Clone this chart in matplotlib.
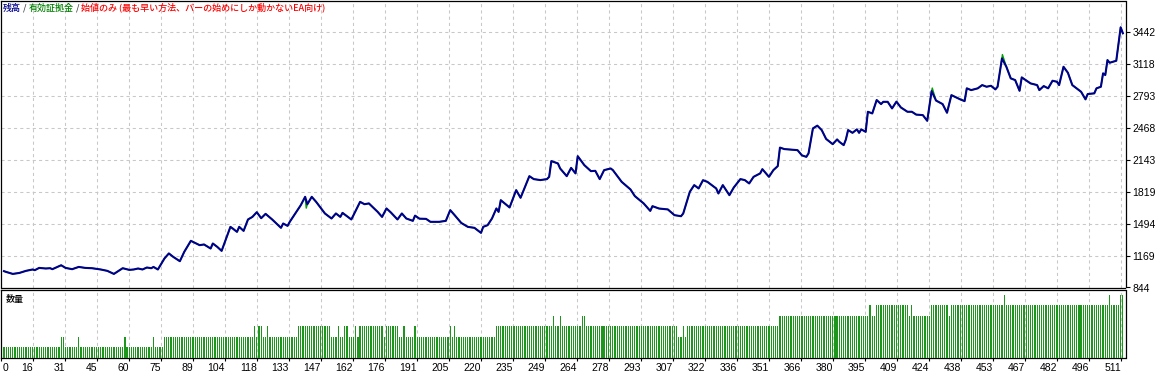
import numpy as np
import matplotlib
matplotlib.use("Agg")
import matplotlib.pyplot as plt

# ---------------- data ----------------
balance_trades = [0, 1, 4, 7, 10, 13, 14, 16, 19, 21,
                  22, 26, 28, 31, 34, 37, 40, 44, 47, 50,
                  54, 57, 59, 61, 63, 65, 67, 68, 70, 73,
                  75, 77, 80, 82, 85, 89, 91, 94, 95, 97,
                  99, 103, 104, 106, 107, 109, 111, 113, 115, 117,
                  119, 122, 126, 127, 129, 130, 132, 135, 137, 138,
                  140, 142, 146, 149, 151, 153, 154, 158, 159, 162,
                  164, 166, 170, 172, 174, 176, 179, 181, 183, 186,
                  187, 189, 192, 194, 198, 201, 203, 205, 208, 211,
                  214, 217, 218, 220, 222, 224, 225, 226, 230, 233,
                  235, 239, 241, 244, 247, 248, 249, 252, 253, 256,
                  258, 260, 261, 264, 267, 269, 271, 273, 276, 277,
                  281, 285, 287, 291, 294, 295, 298, 302, 305, 308,
                  309, 312, 314, 316, 318, 320, 324, 325, 327, 330,
                  332, 335, 337, 339, 341, 344, 345, 348, 350, 352,
                  353, 355, 361, 363, 365, 366, 368, 370, 372, 374,
                  377, 379, 380, 382, 383, 384, 386, 388, 389, 390,
                  392, 393, 395, 397, 399, 400, 402, 404, 406, 408,
                  411, 413, 415, 418, 420, 422, 424, 427, 429, 431,
                  435, 437, 438, 440, 443, 445, 447, 449, 451, 452,
                  454, 456, 458, 460, 462, 463, 467, 470, 471, 473,
                  475, 477, 479, 480, 482, 484, 486, 489, 490, 492,
                  493, 496, 497, 499, 500, 501, 502, 503, 506, 508,
                  509]
balance_values = [1010, 1002, 982, 992, 1013, 1027, 1020, 1043, 1037, 1040,
                  1030, 1070, 1043, 1030, 1053, 1043, 1040, 1027, 1013, 982,
                  1040, 1023, 1027, 1037, 1027, 1047, 1040, 1053, 1027, 1139,
                  1190, 1155, 1111, 1206, 1318, 1274, 1281, 1240, 1291, 1257,
                  1216, 1460, 1444, 1409, 1460, 1419, 1535, 1561, 1609, 1548,
                  1592, 1535, 1450, 1494, 1470, 1511, 1579, 1680, 1765, 1690,
                  1765, 1714, 1596, 1545, 1596, 1561, 1602, 1535, 1579, 1714,
                  1690, 1698, 1612, 1561, 1647, 1606, 1535, 1596, 1545, 1521,
                  1574, 1543, 1541, 1511, 1511, 1521, 1630, 1579, 1500, 1460,
                  1450, 1399, 1460, 1477, 1545, 1647, 1612, 1731, 1657, 1833,
                  1755, 1975, 1945, 1935, 1945, 1968, 2128, 2104, 2053, 1975,
                  2059, 2003, 2178, 2087, 2026, 2029, 1945, 2036, 2053, 2036,
                  1917, 1840, 1772, 1698, 1622, 1670, 1646, 1637, 1579, 1568,
                  1596, 1816, 1884, 1850, 1934, 1917, 1850, 1799, 1884, 1782,
                  1860, 1945, 1935, 1901, 1968, 2003, 2046, 1968, 2036, 2077,
                  2265, 2250, 2239, 2186, 2171, 2206, 2460, 2488, 2443, 2353,
                  2300, 2348, 2324, 2290, 2348, 2443, 2415, 2450, 2415, 2450,
                  2425, 2629, 2612, 2748, 2707, 2730, 2730, 2663, 2732, 2673,
                  2629, 2629, 2600, 2595, 2537, 2839, 2743, 2707, 2619, 2798,
                  2755, 2737, 2867, 2849, 2867, 2900, 2883, 2893, 2856, 2883,
                  3171, 3086, 2968, 2951, 2842, 2978, 2917, 2900, 2849, 2890,
                  2867, 2944, 2934, 2900, 3086, 3025, 2900, 2849, 2832, 2755,
                  2809, 2816, 2867, 2883, 3019, 3002, 3154, 3127, 3147, 3487,
                  3426]

# equity deviates from balance only at a few trades
equity_spike_trades = [137.5, 422.3, 454.2]
equity_spike_values = [1650, 2870, 3210]

# lot size per trade, given as change points (trade number, lots)
n_trades = 510
lot_change_trades = [0, 26, 28, 34, 35, 55, 56, 68, 69, 73,
                     114, 115, 116, 118, 120, 121, 134, 149, 152, 153,
                     155, 157, 160, 161, 162, 173, 174, 180, 182, 183,
                     187, 188, 203, 204, 205, 206, 224, 250, 251, 253,
                     254, 263, 265, 307, 309, 310, 311, 353, 394, 395,
                     397, 412, 413, 414, 422, 430, 431, 455, 456, 503,
                     504, 508]
lot_change_values = [0.01, 0.02, 0.01, 0.02, 0.01, 0.02, 0.01, 0.02, 0.01, 0.02,
                     0.03, 0.02, 0.03, 0.02, 0.03, 0.02, 0.03, 0.02, 0.03, 0.02,
                     0.03, 0.02, 0.03, 0.02, 0.03, 0.02, 0.03, 0.02, 0.03, 0.02,
                     0.03, 0.02, 0.03, 0.02, 0.03, 0.02, 0.03, 0.04, 0.03, 0.04,
                     0.03, 0.04, 0.03, 0.02, 0.03, 0.02, 0.03, 0.04, 0.05, 0.04,
                     0.05, 0.04, 0.05, 0.04, 0.05, 0.04, 0.05, 0.06, 0.05, 0.06,
                     0.05, 0.06]

y_tick_values = [844, 1169, 1494, 1819, 2143, 2468, 2793, 3118, 3442]
x_tick_labels = ['0', '16', '31', '45', '60', '75', '89', '104', '118', '133',
                 '147', '162', '176', '191', '205', '220', '235', '249', '264',
                 '278', '293', '307', '322', '336', '351', '366', '380', '395',
                 '409', '424', '438', '453', '467', '482', '496', '511']

title_parts = ["残高", " / ", "有効証拠金", " / ",
               "始値のみ (最も早い方法、バーの始めにしか動かないEA向け)"]
title_colors = ["#00008B", "#404040", "#008000", "#404040", "#FF0000"]
volume_label = "数量"

# ---------------- derived series ----------------
lots = np.zeros(n_trades)
bounds = list(lot_change_trades) + [n_trades]
for k, v in enumerate(lot_change_values):
    lots[bounds[k]:bounds[k + 1]] = v

eq_x = np.array(list(balance_trades) + equity_spike_trades, dtype=float)
eq_y = np.array(list(balance_values) + equity_spike_values, dtype=float)
order = np.argsort(eq_x, kind="stable")
eq_x, eq_y = eq_x[order], eq_y[order]

# ---------------- figure ----------------
W, H = 1164, 374
fig = plt.figure(figsize=(W / 100, H / 100), dpi=100)
plt.rcParams['font.family'] = ['Liberation Sans', 'DejaVu Sans']
cjk = ['Noto Sans CJK JP', 'DejaVu Sans']

def box(x0, y0, x1, y1):
    return [x0 / W, 1 - y1 / H, (x1 - x0) / W, (y1 - y0) / H]

ax = fig.add_axes(box(1, 1, 1125.5, 287.5))
ax2 = fig.add_axes(box(1, 289.5, 1125.5, 357.7), sharex=ax)

x_left, x_right = -1.365, 510.2
grid_step = 14.559
grid_x = [x_left + k * grid_step for k in range(len(x_tick_labels))]

grid_kw = dict(color="#C8C8C8", linestyle=(0, (3, 3)), linewidth=0.75)

# main panel
ax.plot(eq_x, eq_y, color="#00A000", lw=1.0, zorder=3)
ax.plot(balance_trades, balance_values, color="#00008B", lw=1.5, zorder=4,
        solid_joinstyle="round")
ax.set_xlim(x_left, x_right)
ax.set_ylim(844, 3754)
ax.set_yticks(y_tick_values)
ax.set_yticklabels([str(v) for v in y_tick_values])
ax.yaxis.tick_right()
ax.tick_params(axis="y", direction="out", length=3, width=0.8, pad=2,
               labelsize=7.5, colors="black")
ax.tick_params(axis="x", bottom=False, labelbottom=False)
for gx in grid_x[1:]:
    ax.axvline(gx, zorder=1, **grid_kw)
for gy in y_tick_values[1:]:
    ax.axhline(gy, zorder=1, **grid_kw)
for s in ax.spines.values():
    s.set_linewidth(0.9)

# title (multi-coloured)
t = ax.text(0.002, 0.975, title_parts[0], transform=ax.transAxes,
            color=title_colors[0], fontsize=6.5, family=cjk, va="center",
            ha="left", zorder=6, fontweight="medium")
for part, col in zip(title_parts[1:], title_colors[1:]):
    t = ax.annotate(part, xy=(1, 0), xycoords=t, va="bottom", ha="left",
                    color=col, fontsize=6.5, family=cjk, zorder=6,
                    fontweight="medium")

# volume panel
ax2.bar(np.arange(n_trades), lots, width=0.55, color="#1E961E",
        linewidth=0, zorder=3)
ax2.set_ylim(0, 0.0653)
ax2.set_yticks([])
for gx in grid_x[1:]:
    ax2.axvline(gx, zorder=1, **grid_kw)
ax2.set_xticks(grid_x)
ax2.set_xticklabels(x_tick_labels)
ax2.tick_params(axis="x", direction="out", length=2, width=0.8, pad=1.5,
                labelsize=7.5)
for i, lab in enumerate(ax2.get_xticklabels()):
    if i == 0:
        lab.set_horizontalalignment("left")
        lab.set_transform(lab.get_transform() + matplotlib.transforms.ScaledTranslation(2 / 100, 0, fig.dpi_scale_trans))
    else:
        lab.set_horizontalalignment("right")
for s in ax2.spines.values():
    s.set_linewidth(0.9)
ax2.text(0.004, 0.86, volume_label, transform=ax2.transAxes, fontsize=6.5,
         family=cjk, va="center", ha="left", color="black",
         fontweight="medium")

fig.savefig("out.png", dpi=100, facecolor="white")
